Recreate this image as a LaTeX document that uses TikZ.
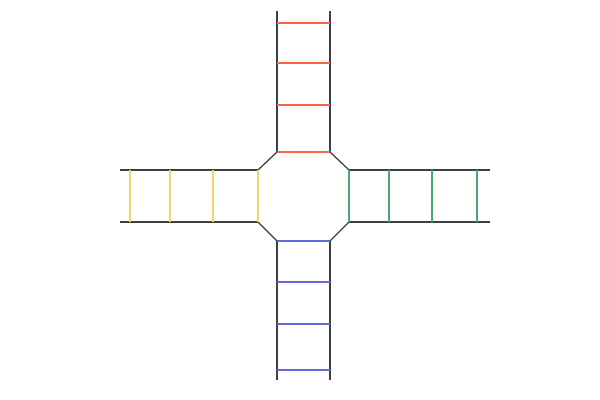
\documentclass[tikz,border=0pt]{standalone}
\usetikzlibrary{positioning}
\definecolor{rungred}{RGB}{250,100,65}
\definecolor{runggreen}{RGB}{70,170,115}
\definecolor{rungblue}{RGB}{95,105,215}
\definecolor{rungyellow}{RGB}{242,215,100}
\begin{document}
\begin{tikzpicture}[
	x=0.025cm, y=-0.025cm,
	rail/.style = {draw=black!75, line width=0.9pt},
	rung/.style = {line width=1.5pt}
     ]
		\useasboundingbox (0,0) rectangle (600,400);
%
		\coordinate (tl) at (277,152);
		\coordinate (tr) at (330,152);
		\coordinate (rt) at (349,170);
		\coordinate (rb) at (349,222);
		\coordinate (br) at (330,241);
		\coordinate (bl) at (277,241);
		\coordinate (lb) at (258,222);
		\coordinate (lt) at (258,170);
%
		\draw[rail] (tl) -- (lt) (tr) -- (rt) (rb) -- (br) (bl) -- (lb);
%
		\draw[rail] (tl) -- (277,11) (tr) -- (330,11);
		\foreach \y in {23,63,105,152}
			\draw[rung,rungred] (277,\y) -- (330,\y);
%
		\draw[rail] (rt) -- (490,170) (rb) -- (490,222);
		\foreach \x in {349,389,432,477}
			\draw[rung,runggreen] (\x,170) -- (\x,222);
%
		\draw[rail] (bl) -- (277,380) (br) -- (330,380);
		\foreach \y in {241,282,324,370}
			\draw[rung,rungblue] (277,\y) -- (330,\y);
%
		\draw[rail] (lt) -- (120,170) (lb) -- (120,222);
		\foreach \x in {130,170,213,258}
			\draw[rung,rungyellow] (\x,170) -- (\x,222);
\end{tikzpicture}
\end{document}
